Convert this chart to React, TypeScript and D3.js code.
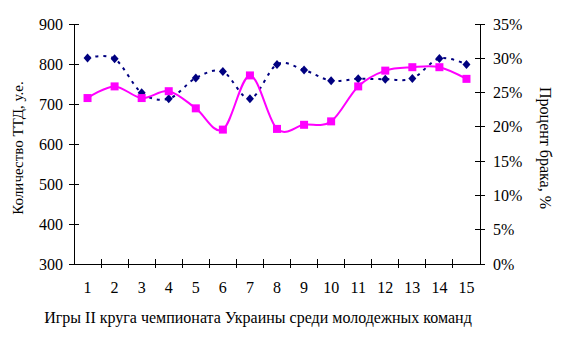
import React from "react";
import * as d3 from "d3";

const games = ["1","2","3","4","5","6","7","8","9","10","11","12","13","14","15"];
const ttdCount = [815, 813, 728, 713, 765, 781, 713, 799, 785, 758, 763, 762, 764, 814, 799];
const defectPct = [24.2, 25.9, 24.2, 25.2, 22.7, 19.6, 27.5, 19.7, 20.3, 20.8, 25.9, 28.2, 28.7, 28.7, 27.0];
const leftTicks = [300, 400, 500, 600, 700, 800, 900];
const rightTicks = [0, 5, 10, 15, 20, 25, 30, 35];

const W = 570, H = 355;
const L = 74, R = 480, T = 24, B = 264;
const FONT = "'Liberation Serif', 'Times New Roman', serif";

export default function App() {
  const x = d3.scaleBand<string>().domain(games).range([L, R]);
  const yL = d3.scaleLinear().domain([300, 900]).range([B, T]);
  const yR = d3.scaleLinear().domain([0, 35]).range([B, T]);
  const cx = (g: string) => (x(g) as number) + x.bandwidth() / 2;

  const navyLine = d3.line<number>()
    .x((_, i) => cx(games[i]))
    .y((d) => yL(d))
    .curve(d3.curveCardinal.tension(0));
  const pinkLine = d3.line<number>()
    .x((_, i) => cx(games[i]))
    .y((d) => yR(d))
    .curve(d3.curveCardinal.tension(0));

  const bandEdges = games.map((g) => x(g) as number).slice(1);

  return (
    <svg width={W} height={H} style={{ position: "absolute", left: 0, top: 0, background: "#fff" }} fontFamily={FONT}>
      <g stroke="#000" strokeWidth={1} shapeRendering="crispEdges">
        <line x1={L} y1={T} x2={L} y2={B} />
        <line x1={R} y1={T} x2={R} y2={B} />
        <line x1={L} y1={B} x2={R} y2={B} />
        {leftTicks.map((t) => (
          <line key={"lt" + t} x1={L - 5} x2={L + 5} y1={yL(t)} y2={yL(t)} />
        ))}
        {rightTicks.map((t) => (
          <line key={"rt" + t} x1={R - 5} x2={R + 5} y1={yR(t)} y2={yR(t)} />
        ))}
        {bandEdges.map((e, i) => (
          <line key={"xt" + i} x1={e} x2={e} y1={B - 5} y2={B + 4} />
        ))}
      </g>
      <g fontSize={16} fill="#000">
        {leftTicks.map((t) => (
          <text key={"ll" + t} x={63} y={yL(t) + 5.5} textAnchor="end">{t}</text>
        ))}
        {rightTicks.map((t) => (
          <text key={"rl" + t} x={493} y={yR(t) + 5.5} textAnchor="start">{t + "%"}</text>
        ))}
        {games.map((g) => (
          <text key={"xl" + g} x={cx(g)} y={293} textAnchor="middle">{g}</text>
        ))}
      </g>
      <text fontSize={16} x={258} y={323} textAnchor="middle">Игры II круга чемпионата Украины среди молодежных команд</text>
      <text fontSize={15} transform={`translate(23,148) rotate(-90)`} textAnchor="middle">Количество ТТД, у.е.</text>
      <text fontSize={16} transform={`translate(540,148) rotate(90)`} textAnchor="middle">Процент брака, %</text>
      <path d={navyLine(ttdCount) || ""} fill="none" stroke="#000080" strokeWidth={2} strokeDasharray="3,5" />
      {ttdCount.map((v, i) => {
        const px = cx(games[i]), py = yL(v);
        return <path key={"nd" + i} d={`M${px},${py - 4.5}L${px + 4},${py}L${px},${py + 4.5}L${px - 4},${py}Z`} fill="#000080" />;
      })}
      <path d={pinkLine(defectPct) || ""} fill="none" stroke="#FF00FF" strokeWidth={2} />
      {defectPct.map((v, i) => {
        const px = cx(games[i]), py = yR(v);
        return <rect key={"ps" + i} x={px - 4} y={py - 4} width={8} height={8} fill="#FF00FF" />;
      })}
    </svg>
  );
}
